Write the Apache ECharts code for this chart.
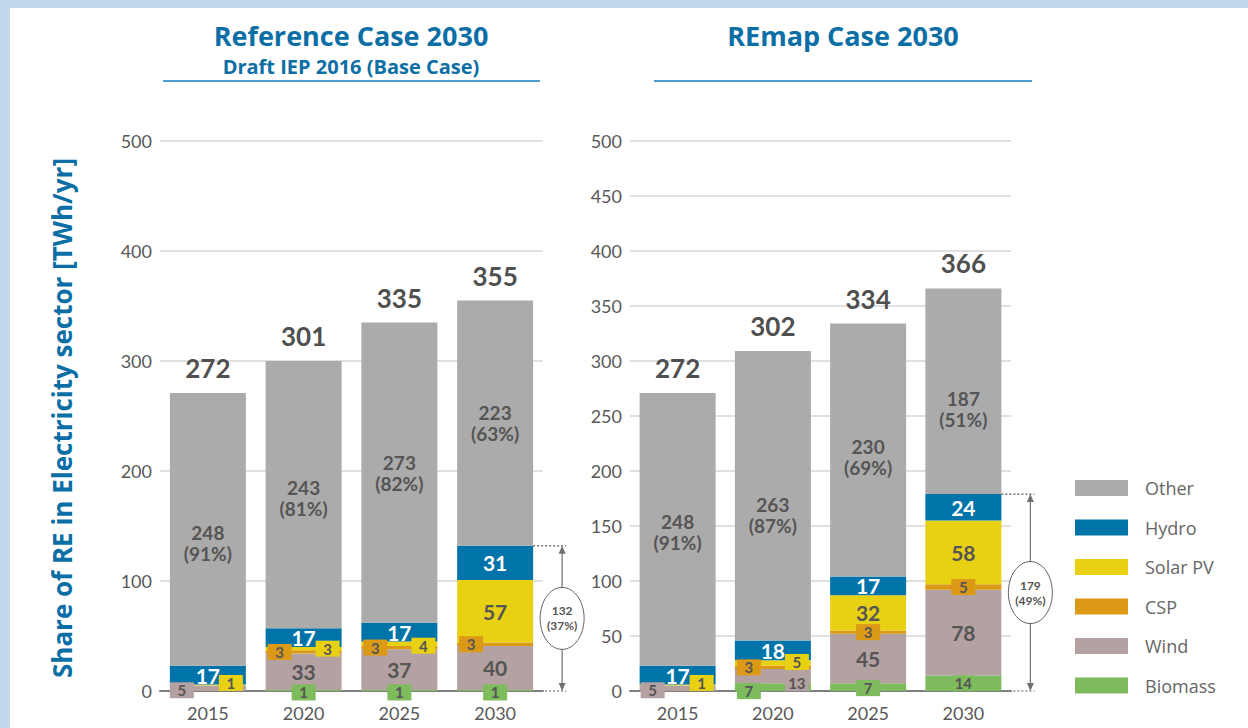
<!DOCTYPE html>
<html>
<head>
<meta charset="utf-8">
<title>Share of RE in Electricity sector</title>
<script src="https://cdn.jsdelivr.net/npm/echarts@6/dist/echarts.min.js"></script>
<style>
  html, body { margin: 0; padding: 0; background: #ffffff; }
  #frame {
    position: absolute; left: 0; top: 0; width: 1248px; height: 728px;
    box-sizing: border-box; background: #ffffff;
    border-top: 8px solid #c1d8eb; border-left: 10px solid #c1d8eb;
  }
  #chart { position: absolute; left: 0; top: 0; width: 1248px; height: 728px; }
</style>
</head>
<body>
<div id="frame"></div>
<div id="chart"></div>
<script>
// ---- data (TWh/yr) ----
const years = ['2015', '2020', '2025', '2030'];

// Reference Case 2030 (Draft IEP 2016, base case)
const refBiomass = [0, 1, 1, 1];
const refWind    = [5, 33, 37, 40];
const refCSP     = [0, 3, 3, 3];
const refSolarPV = [1, 3, 4, 57];
const refHydro   = [17, 17, 17, 31];
const refOther   = [248, 243, 273, 223];
const refOtherShare = [91, 81, 82, 63];   // % of total
const refTotals  = [272, 301, 335, 355];
const refRenewShare2030 = 37;             // %

// REmap Case 2030
const remapBiomass = [0, 7, 7, 14];
const remapWind    = [5, 13, 45, 78];
const remapCSP     = [0, 3, 3, 5];
const remapSolarPV = [1, 5, 32, 58];
const remapHydro   = [17, 18, 17, 24];
const remapOther   = [248, 263, 230, 187];
const remapOtherShare = [91, 87, 69, 51];
const remapTotals  = [272, 302, 334, 366];
const remapRenewShare2030 = 49;

const legendOrder = ['Other', 'Hydro', 'Solar PV', 'CSP', 'Wind', 'Biomass'];
const stackOrder  = ['Biomass', 'Wind', 'CSP', 'Solar PV', 'Hydro', 'Other'];

// ---- styling ----
const COLORS = {
  'Other': '#ababab', 'Hydro': '#0073a9', 'Solar PV': '#e8d013',
  'CSP': '#dc9916', 'Wind': '#b4a1a1', 'Biomass': '#7dbb5c'
};
const BAR_W = 76;
const DARK = '#555555';
const BLUE = '#0b6fa5';
const NUM_FONT = 'Lato, "Open Sans", sans-serif';
const HEAD_FONT = '"Open Sans", "DejaVu Sans", sans-serif';

// small values are shown as coloured tags beside the stack: [dx, dy] offsets
const tagOffsets = {
  ref: {
    'Wind':     { 0: [-26, 2] },
    'Solar PV': { 0: [23, -2], 1: [24, 0], 2: [24, 2] },
    'CSP':      { 1: [-24, 0], 2: [-24, 0], 3: [-24, 0] },
    'Biomass':  { 1: [0, 2], 2: [0, 2], 3: [0, 2] }
  },
  remap: {
    'Wind':     { 0: [-25, 2], 1: [24, 7] },
    'Solar PV': { 0: [24, -2], 1: [24, -1] },
    'CSP':      { 1: [-24, 0], 2: [0, 0], 3: [0, 0] },
    'Biomass':  { 1: [-24, 4], 2: [0, 1], 3: [0, 0] }
  }
};
// vertical nudges for the "Other" value/share labels
const otherLabelDy = { ref: [14, 3, 0, 0], remap: [3, 19, 7, 18] };

const cases = [
  {
    key: 'ref', grid: 0, share: refOtherShare, totals: refTotals, renewShare: refRenewShare2030,
    values: { 'Biomass': refBiomass, 'Wind': refWind, 'CSP': refCSP,
              'Solar PV': refSolarPV, 'Hydro': refHydro, 'Other': refOther }
  },
  {
    key: 'remap', grid: 1, share: remapOtherShare, totals: remapTotals, renewShare: remapRenewShare2030,
    values: { 'Biomass': remapBiomass, 'Wind': remapWind, 'CSP': remapCSP,
              'Solar PV': remapSolarPV, 'Hydro': remapHydro, 'Other': remapOther }
  }
];

function tagLabel(name, off) {
  return {
    show: true, position: 'inside', offset: off,
    fontFamily: NUM_FONT, fontWeight: 'bold', fontSize: 15, color: DARK,
    backgroundColor: COLORS[name], width: 24, height: 16, lineHeight: 16,
    align: 'center', verticalAlign: 'middle', padding: 0
  };
}

function segmentSeries(c, name) {
  const tags = tagOffsets[c.key][name] || {};
  const isOther = name === 'Other';
  return {
    name: name, type: 'bar', stack: c.key,
    xAxisIndex: c.grid, yAxisIndex: c.grid, barWidth: BAR_W,
    itemStyle: { color: COLORS[name] },
    emphasis: { disabled: true },
    label: {
      show: true, position: 'inside',
      fontFamily: NUM_FONT, fontWeight: 'bold',
      fontSize: isOther ? 19 : 21, lineHeight: 21,
      color: name === 'Hydro' ? '#ffffff' : DARK,
      formatter: isOther
        ? (p) => p.value + '\n(' + c.share[p.dataIndex] + '%)'
        : '{c}'
    },
    data: c.values[name].map((v, i) => {
      const item = { value: v };
      if (v === 0) item.label = { show: false };
      else if (tags[i]) item.label = tagLabel(name, tags[i]);
      else if (isOther) item.label = { offset: [0, otherLabelDy[c.key][i]] };
      return item;
    })
  };
}

// zero-height cap on each stack that carries the total label
function totalSeries(c) {
  return {
    name: 'Total', type: 'bar', stack: c.key,
    xAxisIndex: c.grid, yAxisIndex: c.grid, barWidth: BAR_W,
    silent: true, itemStyle: { color: 'rgba(0,0,0,0)' },
    label: {
      show: true, position: 'top', distance: 12,
      fontFamily: NUM_FONT, fontWeight: 'bold', fontSize: 26, color: '#505050',
      formatter: (p) => String(c.totals[p.dataIndex])
    },
    data: c.totals.map(() => 0)
  };
}

const series = [];
cases.forEach((c) => {
  stackOrder.forEach((n) => series.push(segmentSeries(c, n)));
  series.push(totalSeries(c));
});

function xAxisFor(gridIndex) {
  return {
    type: 'category', gridIndex: gridIndex, data: years,
    axisTick: { show: false },
    axisLine: { lineStyle: { color: '#7f7f7f', width: 2 } },
    axisLabel: { fontFamily: NUM_FONT, fontSize: 18, color: '#595959', margin: 13 }
  };
}
function yAxisFor(gridIndex, interval) {
  return {
    type: 'value', gridIndex: gridIndex, min: 0, max: 500, interval: interval,
    axisLine: { show: false }, axisTick: { show: false },
    axisLabel: { fontFamily: NUM_FONT, fontSize: 18, color: '#595959', margin: 8 },
    splitLine: { lineStyle: { color: '#d6d6d6', width: 1.5 } }
  };
}

const chart = echarts.init(document.getElementById('chart'), null,
  { renderer: 'svg', width: 1248, height: 728 });

chart.setOption({
  animation: false,
  backgroundColor: 'transparent',
  grid: [
    { left: 160, top: 141, width: 383, height: 550 },
    { left: 630, top: 141, width: 381, height: 550 }
  ],
  xAxis: [xAxisFor(0), xAxisFor(1)],
  yAxis: [yAxisFor(0, 100), yAxisFor(1, 50)],
  legend: {
    data: legendOrder, orient: 'vertical', left: 1075, top: 479, padding: 0,
    itemWidth: 53, itemHeight: 16, itemGap: 21.5, icon: 'rect', selectedMode: false,
    textStyle: { fontFamily: HEAD_FONT, fontSize: 18, color: '#666666',
                 lineHeight: 16, padding: [0, 0, 0, 12] }
  },
  series: series
});

// ---- titles, axis title and the renewables bracket on each 2030 bar ----
const graphics = [
  { type: 'text', x: 351, y: 35, style: { text: 'Reference Case 2030', fill: BLUE,
    font: 'bold 27px ' + HEAD_FONT, align: 'center', verticalAlign: 'middle' } },
  { type: 'text', x: 351, y: 66, style: { text: 'Draft IEP 2016 (Base Case)', fill: BLUE,
    font: 'bold 20px ' + HEAD_FONT, align: 'center', verticalAlign: 'middle' } },
  { type: 'line', shape: { x1: 163, y1: 81, x2: 540, y2: 81 },
    style: { stroke: '#4e9cc9', lineWidth: 2 } },
  { type: 'text', x: 843, y: 35, style: { text: 'REmap Case 2030', fill: BLUE,
    font: 'bold 27px ' + HEAD_FONT, align: 'center', verticalAlign: 'middle' } },
  { type: 'line', shape: { x1: 654, y1: 81, x2: 1032, y2: 81 },
    style: { stroke: '#4e9cc9', lineWidth: 2 } },
  { type: 'text', x: 62, y: 418, rotation: Math.PI / 2,
    style: { text: 'Share of RE in Electricity sector [TWh/yr]', fill: BLUE,
      font: 'bold 26px ' + HEAD_FONT, align: 'center', verticalAlign: 'middle' } }
];

cases.forEach((c) => {
  const last = years.length - 1;
  const renew = ['Biomass', 'Wind', 'CSP', 'Solar PV', 'Hydro']
    .reduce((s, n) => s + c.values[n][last], 0);
  const finder = { xAxisIndex: c.grid, yAxisIndex: c.grid };
  const top = chart.convertToPixel(finder, [last, renew]);
  const base = chart.convertToPixel(finder, [last, 0]);
  const barRight = top[0] + BAR_W / 2;
  const ax = barRight + 29;
  const midY = (top[1] + base[1]) / 2;
  const lineCol = '#707070';
  graphics.push(
    { type: 'line', shape: { x1: barRight, y1: top[1], x2: ax + 4, y2: top[1] },
      style: { stroke: '#555', lineWidth: 1.2, lineDash: [2, 2] } },
    { type: 'line', shape: { x1: barRight, y1: base[1], x2: ax + 4, y2: base[1] },
      style: { stroke: '#555', lineWidth: 1.2, lineDash: [2, 2] } },
    { type: 'line', shape: { x1: ax, y1: top[1] + 4, x2: ax, y2: base[1] - 4 },
      style: { stroke: lineCol, lineWidth: 1.2 } },
    { type: 'polygon', shape: { points: [[ax, top[1]], [ax - 3.5, top[1] + 8], [ax + 3.5, top[1] + 8]] },
      style: { fill: lineCol } },
    { type: 'polygon', shape: { points: [[ax, base[1]], [ax - 3.5, base[1] - 8], [ax + 3.5, base[1] - 8]] },
      style: { fill: lineCol } },
    { type: 'ellipse', shape: { cx: ax, cy: midY, rx: 22, ry: 31 },
      style: { fill: '#ffffff', stroke: '#606060', lineWidth: 1 } },
    { type: 'text', x: ax, y: midY, style: { text: renew + '\n(' + c.renewShare + '%)',
      fill: DARK, font: 'bold 12px ' + NUM_FONT, lineHeight: 15,
      align: 'center', verticalAlign: 'middle' } }
  );
});

chart.setOption({ graphic: graphics });
</script>
</body>
</html>
